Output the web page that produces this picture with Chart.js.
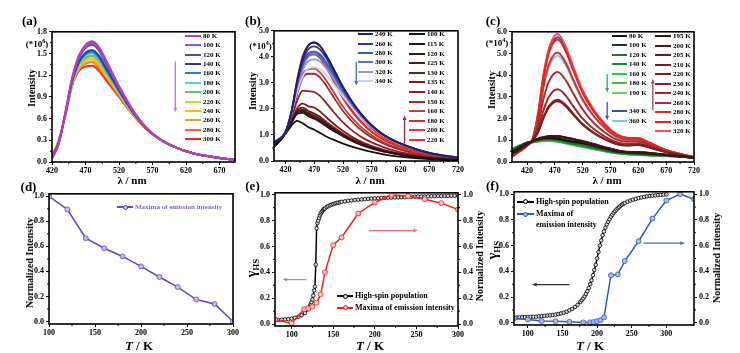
<!DOCTYPE html>
<html>
<head>
<meta charset="utf-8">
<script src="https://cdn.jsdelivr.net/npm/chart.js@4.4.0/dist/chart.umd.min.js"></script>
<style>
  html, body { margin: 0; padding: 0; background: #fff; }
  #fig { position: relative; width: 740px; height: 353px; overflow: hidden;
         font-family: 'Liberation Serif', 'Times New Roman', serif; font-weight: bold; }
  canvas { position: absolute; }
  .t { position: absolute; white-space: nowrap; line-height: 1; color: #000; }
  .ln { position: absolute; height: 2px; }
  .mk { position: absolute; border-radius: 50%; box-sizing: border-box; }
</style>
</head>
<body>
<div id="fig"></div>
<script>
// ---------- data ----------
// (a) emission spectra, x10^6
var wlA = [420, 430, 440, 450, 460, 470, 480, 490, 500, 520, 540, 560, 580, 600, 630, 660, 693];
var tempsA = [80, 100, 120, 140, 160, 180, 200, 220, 240, 260, 280, 300];
var specA = [
  [0.05, 0.25, 0.68, 1.16, 1.47, 1.62, 1.67, 1.59, 1.42, 1.05, 0.73, 0.48, 0.32, 0.22, 0.12, 0.07, 0.03],
  [0.05, 0.25, 0.68, 1.15, 1.45, 1.60, 1.65, 1.57, 1.40, 1.04, 0.72, 0.48, 0.32, 0.22, 0.12, 0.07, 0.03],
  [0.05, 0.26, 0.68, 1.14, 1.43, 1.58, 1.62, 1.54, 1.37, 1.02, 0.71, 0.48, 0.32, 0.22, 0.12, 0.07, 0.03],
  [0.06, 0.27, 0.67, 1.12, 1.38, 1.51, 1.55, 1.47, 1.31, 1.00, 0.70, 0.47, 0.32, 0.22, 0.12, 0.07, 0.03],
  [0.07, 0.27, 0.67, 1.11, 1.37, 1.49, 1.52, 1.44, 1.29, 0.98, 0.70, 0.47, 0.32, 0.22, 0.12, 0.07, 0.03],
  [0.07, 0.27, 0.67, 1.10, 1.35, 1.47, 1.50, 1.42, 1.28, 0.97, 0.69, 0.47, 0.32, 0.22, 0.12, 0.07, 0.03],
  [0.07, 0.28, 0.66, 1.09, 1.34, 1.44, 1.47, 1.40, 1.25, 0.96, 0.69, 0.47, 0.32, 0.22, 0.12, 0.07, 0.03],
  [0.08, 0.28, 0.66, 1.09, 1.32, 1.42, 1.45, 1.37, 1.23, 0.95, 0.68, 0.47, 0.32, 0.22, 0.12, 0.07, 0.03],
  [0.08, 0.29, 0.66, 1.08, 1.31, 1.40, 1.42, 1.35, 1.21, 0.94, 0.68, 0.47, 0.32, 0.22, 0.12, 0.07, 0.03],
  [0.08, 0.29, 0.66, 1.07, 1.29, 1.37, 1.39, 1.32, 1.19, 0.93, 0.67, 0.46, 0.32, 0.22, 0.12, 0.07, 0.03],
  [0.09, 0.29, 0.65, 1.06, 1.28, 1.36, 1.38, 1.30, 1.18, 0.92, 0.67, 0.46, 0.32, 0.22, 0.12, 0.07, 0.03],
  [0.09, 0.30, 0.65, 1.05, 1.26, 1.32, 1.33, 1.26, 1.14, 0.90, 0.66, 0.46, 0.32, 0.22, 0.12, 0.07, 0.03]
];
var xTicksA = [420, 470, 520, 570, 620, 670];
var yTicksA = [0, 0.3, 0.6, 0.9, 1.2, 1.5, 1.8];

// (b) emission spectra, x10^4
var wlB = [400, 420, 430, 440, 450, 460, 470, 480, 490, 500, 520, 540, 560, 580, 600, 630, 670, 720];
var tempsB1 = [240, 260, 280, 300, 320, 340];
var specB1 = [
  [0.70, 1.10, 1.85, 3.05, 3.95, 4.45, 4.55, 4.42, 4.10, 3.70, 2.85, 2.15, 1.60, 1.18, 0.88, 0.58, 0.30, 0.12],
  [0.70, 1.12, 1.85, 3.00, 3.85, 4.30, 4.40, 4.28, 3.98, 3.60, 2.80, 2.12, 1.58, 1.17, 0.88, 0.58, 0.30, 0.12],
  [0.72, 1.12, 1.85, 2.95, 3.72, 4.12, 4.20, 4.10, 3.82, 3.48, 2.72, 2.08, 1.56, 1.16, 0.87, 0.58, 0.31, 0.13],
  [0.72, 1.12, 1.84, 2.90, 3.65, 4.02, 4.10, 4.00, 3.74, 3.40, 2.68, 2.06, 1.55, 1.16, 0.87, 0.58, 0.31, 0.13],
  [0.73, 1.12, 1.82, 2.80, 3.50, 3.84, 3.90, 3.82, 3.58, 3.27, 2.60, 2.02, 1.53, 1.15, 0.87, 0.58, 0.31, 0.13],
  [0.73, 1.12, 1.80, 2.65, 3.25, 3.55, 3.60, 3.53, 3.33, 3.06, 2.48, 1.95, 1.50, 1.14, 0.87, 0.59, 0.32, 0.14]
];
var tempsB2 = [100, 115, 120, 125, 130, 135, 140, 150, 160, 180, 200, 220];
var specB2 = [
  [0.55, 1.05, 1.35, 1.54, 1.45, 1.30, 1.20, 1.08, 0.95, 0.85, 0.67, 0.52, 0.40, 0.30, 0.22, 0.14, 0.07, 0.03],
  [0.55, 1.08, 1.45, 1.80, 1.85, 1.72, 1.62, 1.50, 1.35, 1.20, 0.95, 0.72, 0.55, 0.42, 0.32, 0.20, 0.10, 0.04],
  [0.55, 1.08, 1.47, 1.85, 1.92, 1.78, 1.68, 1.56, 1.40, 1.25, 0.98, 0.75, 0.57, 0.44, 0.33, 0.21, 0.11, 0.04],
  [0.55, 1.08, 1.48, 1.88, 1.97, 1.84, 1.74, 1.62, 1.45, 1.29, 1.01, 0.77, 0.59, 0.45, 0.34, 0.22, 0.11, 0.04],
  [0.55, 1.08, 1.50, 1.93, 2.05, 1.92, 1.82, 1.70, 1.52, 1.35, 1.05, 0.80, 0.61, 0.47, 0.35, 0.23, 0.12, 0.05],
  [0.55, 1.08, 1.52, 2.02, 2.20, 2.10, 2.05, 1.90, 1.70, 1.50, 1.15, 0.87, 0.66, 0.50, 0.37, 0.24, 0.12, 0.05],
  [0.55, 1.08, 1.60, 2.30, 2.70, 2.68, 2.65, 2.50, 2.25, 1.98, 1.48, 1.10, 0.82, 0.62, 0.46, 0.29, 0.15, 0.06],
  [0.55, 1.08, 1.65, 2.55, 3.20, 3.35, 3.35, 3.20, 2.92, 2.58, 1.92, 1.42, 1.05, 0.78, 0.58, 0.37, 0.18, 0.07],
  [0.55, 1.08, 1.68, 2.65, 3.35, 3.52, 3.55, 3.40, 3.12, 2.78, 2.08, 1.55, 1.14, 0.84, 0.62, 0.40, 0.20, 0.08],
  [0.55, 1.08, 1.75, 2.90, 3.75, 4.05, 4.10, 3.95, 3.62, 3.22, 2.40, 1.78, 1.30, 0.95, 0.70, 0.45, 0.22, 0.09],
  [0.55, 1.08, 1.76, 2.95, 3.82, 4.15, 4.20, 4.05, 3.72, 3.30, 2.46, 1.82, 1.33, 0.97, 0.72, 0.46, 0.23, 0.09],
  [0.55, 1.08, 1.80, 3.10, 4.05, 4.45, 4.55, 4.40, 4.05, 3.60, 2.70, 2.00, 1.46, 1.06, 0.78, 0.50, 0.25, 0.10]
];
var xTicksB = [420, 470, 520, 570, 620, 670, 720];
var yTicksB = [0, 1, 2, 3, 4, 5];

// (c) emission spectra, x10^4
var wlC = [393, 420, 430, 440, 450, 460, 475, 490, 500, 520, 540, 560, 580, 600, 620, 640, 670, 720];
var tempsC1 = [80, 100, 120, 140, 160, 180, 190, 340, 360];
var specC1 = [
  [0.45, 0.85, 0.95, 1.05, 1.10, 1.12, 1.08, 1.00, 0.96, 0.88, 0.76, 0.62, 0.50, 0.45, 0.42, 0.40, 0.33, 0.20],
  [0.50, 0.88, 0.95, 1.03, 1.08, 1.10, 1.06, 0.98, 0.93, 0.85, 0.73, 0.60, 0.48, 0.43, 0.40, 0.37, 0.31, 0.20],
  [0.55, 0.90, 0.95, 1.00, 1.04, 1.05, 1.02, 0.94, 0.88, 0.78, 0.66, 0.55, 0.45, 0.40, 0.37, 0.34, 0.30, 0.20],
  [0.58, 0.90, 0.94, 0.98, 1.01, 1.02, 0.98, 0.90, 0.84, 0.74, 0.63, 0.52, 0.43, 0.38, 0.35, 0.32, 0.29, 0.20],
  [0.60, 0.88, 0.92, 0.96, 0.99, 1.00, 0.96, 0.88, 0.82, 0.72, 0.61, 0.51, 0.42, 0.37, 0.34, 0.31, 0.29, 0.20],
  [0.60, 0.87, 0.91, 0.95, 0.98, 0.98, 0.94, 0.86, 0.80, 0.70, 0.60, 0.50, 0.41, 0.36, 0.33, 0.30, 0.28, 0.20],
  [0.62, 0.86, 0.90, 0.94, 0.96, 0.97, 0.93, 0.85, 0.79, 0.69, 0.59, 0.49, 0.40, 0.35, 0.32, 0.30, 0.28, 0.20],
  [0.30, 0.78, 1.05, 2.20, 4.00, 5.15, 5.75, 5.20, 4.52, 3.25, 2.37, 1.73, 1.29, 1.11, 1.09, 0.89, 0.54, 0.22],
  [0.32, 0.80, 1.05, 1.95, 3.45, 4.40, 4.90, 4.45, 3.88, 2.82, 2.08, 1.55, 1.17, 1.02, 1.01, 0.83, 0.52, 0.22]
];
var tempsC2 = [195, 200, 205, 210, 220, 230, 240, 260, 280, 300, 320];
var specC2 = [
  [0.40, 0.82, 0.95, 1.05, 1.12, 1.17, 1.17, 1.10, 1.05, 0.94, 0.80, 0.65, 0.52, 0.44, 0.43, 0.40, 0.32, 0.20],
  [0.38, 0.82, 0.96, 1.06, 1.13, 1.18, 1.18, 1.11, 1.06, 0.95, 0.81, 0.66, 0.53, 0.45, 0.44, 0.41, 0.32, 0.20],
  [0.36, 0.81, 0.96, 1.07, 1.14, 1.19, 1.19, 1.12, 1.07, 0.96, 0.82, 0.67, 0.54, 0.46, 0.45, 0.42, 0.33, 0.20],
  [0.35, 0.80, 0.97, 1.08, 1.15, 1.20, 1.20, 1.13, 1.08, 0.97, 0.83, 0.68, 0.55, 0.47, 0.46, 0.42, 0.33, 0.20],
  [0.33, 0.80, 0.98, 1.38, 2.05, 2.54, 2.80, 2.56, 2.27, 1.72, 1.33, 1.04, 0.83, 0.76, 0.78, 0.67, 0.45, 0.22],
  [0.32, 0.79, 0.98, 1.40, 2.10, 2.60, 2.87, 2.62, 2.32, 1.75, 1.35, 1.05, 0.84, 0.77, 0.79, 0.68, 0.46, 0.22],
  [0.30, 0.78, 0.99, 1.52, 2.42, 3.03, 3.35, 3.05, 2.68, 2.00, 1.52, 1.17, 0.92, 0.83, 0.84, 0.72, 0.47, 0.22],
  [0.28, 0.77, 1.00, 1.75, 2.95, 3.75, 4.15, 3.75, 3.30, 2.42, 1.80, 1.36, 1.05, 0.93, 0.93, 0.78, 0.50, 0.22],
  [0.27, 0.76, 1.02, 2.00, 3.55, 4.55, 5.05, 4.55, 3.97, 2.88, 2.12, 1.57, 1.18, 1.03, 1.02, 0.84, 0.52, 0.22],
  [0.25, 0.75, 1.03, 2.20, 3.95, 5.10, 5.65, 5.08, 4.42, 3.18, 2.32, 1.70, 1.27, 1.10, 1.08, 0.88, 0.54, 0.22],
  [0.25, 0.75, 1.05, 2.30, 4.10, 5.30, 5.90, 5.30, 4.60, 3.30, 2.40, 1.75, 1.30, 1.12, 1.10, 0.90, 0.55, 0.22]
];
var xTicksC = [420, 470, 520, 570, 620, 670, 720];
var yTicksC = [0, 1, 2, 3, 4, 5, 6];

// (d) normalized maxima
var tempD = [100, 120, 140, 160, 180, 200, 220, 240, 260, 280, 300];
var normD = [1.0, 0.895, 0.665, 0.585, 0.52, 0.44, 0.355, 0.275, 0.175, 0.14, 0.0];
var xTicksD = [100, 150, 200, 250, 300];
var yTicksD = [0, 0.2, 0.4, 0.6, 0.8, 1.0];

// (e) high-spin fraction and maxima
var hsTempE = [80, 84, 88, 92, 96, 100, 104, 108, 112, 116, 120,
  121, 122, 123, 124, 125, 126, 127, 128, 129, 130, 131, 132, 133, 134, 135, 136, 137, 138, 139, 140,
  142, 144, 146, 148, 150, 152, 154, 156, 158, 160,
  164, 168, 172, 176, 180, 184, 188, 192, 196, 200, 204, 208, 212, 216, 220, 224, 228, 232, 236, 240,
  244, 248, 252, 256, 260, 264, 268, 272, 276, 280, 284, 288, 292, 296, 300];
var hsValE = [0.030, 0.032, 0.034, 0.036, 0.038, 0.042, 0.048, 0.056, 0.068, 0.085, 0.115,
  0.125, 0.14, 0.155, 0.17, 0.19, 0.22, 0.26, 0.29, 0.46, 0.74, 0.78, 0.80, 0.82, 0.84, 0.855, 0.865, 0.875, 0.885, 0.89, 0.895,
  0.905, 0.912, 0.918, 0.923, 0.928, 0.932, 0.936, 0.939, 0.942, 0.945,
  0.949, 0.953, 0.956, 0.959, 0.962, 0.964, 0.966, 0.968, 0.970, 0.972, 0.973, 0.975, 0.976, 0.977, 0.978, 0.979, 0.980, 0.981, 0.982, 0.983,
  0.984, 0.985, 0.986, 0.987, 0.987, 0.988, 0.989, 0.989, 0.990, 0.990, 0.991, 0.991, 0.992, 0.992, 0.993];
var emTempE = [80, 100, 115, 120, 125, 130, 135, 140, 150, 160, 180, 200, 220, 240, 260, 280, 300];
var emValE = [0.035, 0.005, 0.115, 0.12, 0.135, 0.165, 0.23, 0.40, 0.61, 0.67, 0.855, 0.94, 1.0, 0.99, 0.965, 0.935, 0.885];
var xTicksE = [100, 150, 200, 250, 300];

// (f) high-spin fraction and maxima
var hsTempF = [80, 84, 88, 92, 96, 100, 104, 108, 112, 116, 120, 124, 128, 132, 136, 140, 144, 148, 152, 156, 160, 164, 168, 172, 176,
  178, 180, 182, 184, 186, 188, 190, 192, 194, 196, 198, 200, 202, 204, 206, 208, 210, 212, 214, 216, 218, 220,
  222, 224, 226, 228, 230, 232, 234, 236, 238, 240,
  244, 248, 252, 256, 260, 264, 268, 272, 276, 280, 284, 288, 292, 296, 300];
var hsValF = [0.040, 0.041, 0.042, 0.043, 0.044, 0.045, 0.046, 0.047, 0.048, 0.050, 0.052, 0.054, 0.056, 0.058, 0.061, 0.064, 0.068, 0.073, 0.079, 0.086, 0.097, 0.108, 0.123, 0.140, 0.163,
  0.176, 0.19, 0.206, 0.224, 0.245, 0.27, 0.30, 0.33, 0.37, 0.41, 0.45, 0.50, 0.55, 0.60, 0.64, 0.68, 0.71, 0.74, 0.765, 0.785, 0.805,
  0.825, 0.84, 0.855, 0.868, 0.88, 0.89, 0.90, 0.91, 0.918, 0.925, 0.931,
  0.941, 0.950, 0.957, 0.963, 0.969, 0.974, 0.978, 0.982, 0.985, 0.988, 0.99, 0.992, 0.994, 0.996, 0.998];
var emTempF = [80, 100, 120, 140, 160, 180, 190, 195, 200, 205, 210, 220, 230, 240, 260, 280, 300, 320, 340];
var emValF = [0.035, 0.026, 0.015, 0.012, 0.008, 0.003, 0.004, 0.006, 0.013, 0.02, 0.042, 0.37, 0.376, 0.48, 0.634, 0.81, 0.95, 1.0, 0.96];
var xTicksF = [100, 150, 200, 250, 300];
var yTicksN = [0, 0.2, 0.4, 0.6, 0.8, 1.0];

// ---------- colours ----------
var colorsA = ['#c23bb5', '#9a55c4', '#5a4aa8', '#2a3f9e', '#2f78c8', '#5ccbe6', '#6cc46a', '#c6d83a', '#f5c400', '#f59a2a', '#f2603a', '#ee2a24'];
var colorsB1 = ['#1c1f6b', '#2b3a9c', '#3a5bc4', '#5b72c8', '#8d9ad6', '#d0d2ec'];
var colorsB2 = ['#141414', '#2e1212', '#431616', '#561a1a', '#6b1c1c', '#7f1e1e', '#922222', '#a82828', '#c04040', '#d43030', '#e83636', '#f23030'];
var colorsC1 = ['#151515', '#1b3a20', '#2e6b3a', '#18913a', '#39c447', '#4fb443', '#7ccb5e', '#3b4fae', '#79c9e8'];
var colorsC2 = ['#3a1616', '#4b1a1a', '#5c1e1e', '#6a2020', '#7a2222', '#8a2424', '#9a2a2a', '#b02c2c', '#cf3030', '#ea2222', '#f05050'];

var fig = document.getElementById('fig');
var FONT = "'Liberation Serif', 'Times New Roman', serif";
Chart.defaults.font.family = FONT;

// ---------- plugins ----------
var framePlugin = {
  id: 'frame',
  afterDraw: function(chart) {
    var a = chart.chartArea, c = chart.ctx;
    c.save();
    c.strokeStyle = '#000';
    c.lineWidth = 1.6;
    c.strokeRect(a.left, a.top, a.right - a.left, a.bottom - a.top);
    c.restore();
  }
};

var minorPlugin = {
  id: 'minor',
  afterDraw: function(chart) {
    var c = chart.ctx;
    c.save();
    c.strokeStyle = '#000';
    c.lineWidth = 1;
    Object.keys(chart.scales).forEach(function(k) {
      var s = chart.scales[k], t = s.ticks;
      for (var i = 0; i < t.length - 1; i++) {
        var p = s.getPixelForValue((t[i].value + t[i + 1].value) / 2);
        c.beginPath();
        if (s.isHorizontal()) { c.moveTo(p, s.top); c.lineTo(p, s.top + 2); }
        else if (s.position === 'left') { c.moveTo(s.right, p); c.lineTo(s.right - 2, p); }
        else { c.moveTo(s.left, p); c.lineTo(s.left + 2, p); }
        c.stroke();
      }
    });
    c.restore();
  }
};

function arrowPlugin(list) {
  return {
    id: 'arrows',
    afterDatasetsDraw: function(chart) {
      var c = chart.ctx;
      list.forEach(function(a) {
        var xs = chart.scales.x, ys = chart.scales[a.axis || 'y'];
        var x0 = xs.getPixelForValue(a.from[0]), y0 = ys.getPixelForValue(a.from[1]);
        var x1 = xs.getPixelForValue(a.to[0]), y1 = ys.getPixelForValue(a.to[1]);
        var ang = Math.atan2(y1 - y0, x1 - x0), h = 5;
        c.save();
        c.strokeStyle = a.color;
        c.fillStyle = a.color;
        c.lineWidth = 1.3;
        c.beginPath();
        c.moveTo(x0, y0);
        c.lineTo(x1 - Math.cos(ang) * h * 0.7, y1 - Math.sin(ang) * h * 0.7);
        c.stroke();
        c.beginPath();
        c.moveTo(x1, y1);
        c.lineTo(x1 - h * Math.cos(ang - 0.4), y1 - h * Math.sin(ang - 0.4));
        c.lineTo(x1 - h * Math.cos(ang + 0.4), y1 - h * Math.sin(ang + 0.4));
        c.closePath();
        c.fill();
        c.restore();
      });
    }
  };
}

// ---------- helpers ----------
var tickFont = { family: FONT, size: 8, weight: 'bold' };

function xAxis(min, max, ticks) {
  return {
    type: 'linear', min: min, max: max,
    afterBuildTicks: function(s) { s.ticks = ticks.map(function(v) { return { value: v }; }); },
    afterFit: function(s) { s.height = 14; },
    grid: { drawOnChartArea: false, drawTicks: true, tickLength: 3, color: '#000' },
    border: { display: false },
    ticks: { font: tickFont, color: '#000', padding: 1, maxRotation: 0, autoSkip: false,
             callback: function(v) { return String(v); } }
  };
}

function yAxis(min, max, ticks, pos, width) {
  return {
    type: 'linear', position: pos, min: min, max: max,
    afterBuildTicks: function(s) { s.ticks = ticks.map(function(v) { return { value: v }; }); },
    afterFit: function(s) { s.width = width; },
    grid: { drawOnChartArea: false, drawTicks: true, tickLength: 3, color: '#000' },
    border: { display: false },
    ticks: { font: tickFont, color: '#000', padding: 2, autoSkip: false,
             callback: function(v) { return v.toFixed(1); } }
  };
}

function spectra(wl, series, colors, width) {
  return series.map(function(vals, i) {
    return {
      data: vals.map(function(v, j) { return { x: wl[j], y: v }; }),
      borderColor: colors[i], borderWidth: width, pointRadius: 0,
      cubicInterpolationMode: 'monotone', fill: false
    };
  });
}

function series(xs, ys, color, fillColor, radius, width, axis, order) {
  return {
    data: xs.map(function(x, i) { return { x: x, y: ys[i] }; }),
    yAxisID: axis || 'y', order: order || 0,
    borderColor: color, borderWidth: width, pointRadius: radius,
    pointBackgroundColor: fillColor, pointBorderColor: color, pointBorderWidth: 0.8,
    tension: 0, fill: false
  };
}

function makeChart(box, datasets, scales, arrows) {
  var cv = document.createElement('canvas');
  cv.width = box.w;
  cv.height = box.h;
  cv.style.left = box.x + 'px';
  cv.style.top = box.y + 'px';
  fig.appendChild(cv);
  return new Chart(cv, {
    type: 'line',
    data: { datasets: datasets },
    options: {
      responsive: false, animation: false, devicePixelRatio: 1,
      layout: { padding: { top: 6, right: box.r, left: 0, bottom: 0 } },
      plugins: { legend: { display: false }, tooltip: { enabled: false } },
      scales: scales
    },
    plugins: [framePlugin, minorPlugin, arrowPlugin(arrows)]
  });
}

function text(html, x, y, size, opt) {
  opt = opt || {};
  var d = document.createElement('div');
  d.className = 't';
  d.innerHTML = html;
  d.style.fontSize = size + 'px';
  d.style.left = x + 'px';
  d.style.top = y + 'px';
  var tr = 'translate(' + (opt.left ? '0' : '-50%') + ',-50%)';
  if (opt.rotate) tr += ' rotate(' + opt.rotate + 'deg)';
  d.style.transform = tr;
  if (opt.color) d.style.color = opt.color;
  fig.appendChild(d);
}

function legendItem(x0, x1, y, color, label, size, marker, textColor) {
  var l = document.createElement('div');
  l.className = 'ln';
  l.style.left = x0 + 'px';
  l.style.top = (y - 1) + 'px';
  l.style.width = (x1 - x0) + 'px';
  l.style.background = color;
  fig.appendChild(l);
  if (marker) {
    var m = document.createElement('div');
    m.className = 'mk';
    m.style.width = m.style.height = '5px';
    m.style.left = ((x0 + x1) / 2 - 2.5) + 'px';
    m.style.top = (y - 2.5) + 'px';
    m.style.background = marker;
    m.style.border = '1px solid ' + color;
    fig.appendChild(m);
  }
  if (label) text(label, x1 + 2, y, size, { left: true, color: textColor });
}

// ---------- (a) ----------
makeChart({ x: 24, y: 25, w: 221, h: 151, r: 10 },
  spectra(wlA, specA, colorsA, 2),
  { x: xAxis(420, 693, xTicksA), y: yAxis(0, 1.8, yTicksA, 'left', 28) },
  [{ from: [604, 1.39], to: [604, 0.69], color: '#b77ccc' }]);
tempsA.forEach(function(t, i) { legendItem(185, 201, 35.7 + i * 9.4, colorsA[i], t + ' K', 7); });

// ---------- (b) ----------
makeChart({ x: 246, y: 24, w: 222, h: 151, r: 10 },
  spectra(wlB, specB1, colorsB1, 1.8).concat(spectra(wlB, specB2, colorsB2, 1.8)),
  { x: xAxis(400, 720, xTicksB), y: yAxis(0, 5, yTicksB, 'left', 28) },
  [{ from: [543, 3.8], to: [543, 2.9], color: '#4a66c8' },
   { from: [627, 0.67], to: [627, 1.75], color: '#a02838' }]);
tempsB1.forEach(function(t, i) { legendItem(358, 373, 34.3 + i * 9.3, colorsB1[i], t + ' K', 7); });
tempsB2.forEach(function(t, i) { legendItem(409, 425, 34.3 + i * 9.6, colorsB2[i], t + ' K', 7); });

// ---------- (c) ----------
makeChart({ x: 484, y: 25, w: 220, h: 151, r: 10 },
  spectra(wlC, specC2, colorsC2, 2).concat(spectra(wlC, specC1, colorsC1, 2)),
  { x: xAxis(393, 720, xTicksC), y: yAxis(0, 6, yTicksC, 'left', 28) },
  [{ from: [564, 4.05], to: [564, 3.2], color: '#3aa848' },
   { from: [564, 2.76], to: [564, 1.92], color: '#3a52b8' },
   { from: [646, 2.38], to: [646, 3.83], color: '#a84850' }]);
tempsC1.forEach(function(t, i) {
  var y = i < 7 ? 36 + i * 9.45 : 111 + (i - 7) * 9.5;
  legendItem(612, 627, y, colorsC1[i], t + ' K', 7);
});
tempsC2.forEach(function(t, i) { legendItem(655, 671, 36 + i * 9.5, colorsC2[i], t + ' K', 7); });

// ---------- (d) ----------
makeChart({ x: 21, y: 187, w: 222, h: 151, r: 10 },
  [series(tempD, normD, '#6a4aae', '#c8b8e8', 2.5, 1.6)],
  { x: xAxis(100, 300, xTicksD), y: yAxis(-0.02, 1.02, yTicksD, 'left', 28) },
  []);
legendItem(117, 133, 207, '#6a4aae', 'Maxima of emission intensity', 7, '#c8b8e8', '#8a62c8');

// ---------- (e) ----------
makeChart({ x: 247, y: 186, w: 237, h: 154, r: 0 },
  [series(emTempE, emValE, '#f02020', '#f8c4c4', 2.5, 1.5, 'y2', 0),
   series(hsTempE, hsValE, '#000', '#d8d8d8', 1.8, 1.5, 'y', 1)],
  { x: xAxis(80, 300, xTicksE), y: yAxis(-0.015, 1.015, yTicksN, 'left', 28),
    y2: yAxis(-0.015, 1.015, yTicksN, 'right', 26) },
  [{ from: [118, 0.344], to: [89, 0.344], color: '#9a9a9a' },
   { from: [193, 0.723], to: [252, 0.723], color: '#f07070', axis: 'y2' }]);
legendItem(337, 353, 296, '#000', 'High-spin population', 8, '#d8d8d8');
legendItem(337, 353, 307.5, '#f02020', 'Maxima of emission intensity', 8, '#f8c4c4');

// ---------- (f) ----------
makeChart({ x: 486, y: 185, w: 234, h: 154, r: 0 },
  [series(emTempF, emValF, '#3a56c0', '#a8b8e8', 2.5, 1.5, 'y2', 0),
   series(hsTempF, hsValF, '#000', '#d8d8d8', 1.8, 1.5, 'y', 1)],
  { x: xAxis(80, 340, xTicksF), y: yAxis(-0.017, 1.018, yTicksN, 'left', 28),
    y2: yAxis(-0.017, 1.018, yTicksN, 'right', 26) },
  [{ from: [160, 0.297], to: [106, 0.297], color: '#333' },
   { from: [267, 0.619], to: [327, 0.619], color: '#4a6ad0', axis: 'y2' }]);
legendItem(517, 534, 201.7, '#000', 'High-spin population', 8, '#d8d8d8');
legendItem(517, 534, 214, '#3a56c0', 'Maxima of', 8, '#a8b8e8');
text('emission intensity', 536, 224.5, 8, { left: true });

// ---------- labels ----------
text('(a)', 29.5, 20, 13);
text('(b)', 253, 20, 13);
text('(c)', 493, 20, 13);
text('(d)', 28.5, 186, 13);
text('(e)', 252.5, 185, 13);
text('(f)', 492.5, 185, 13);
text('(*10<sup style="font-size:6px">6</sup>)', 37, 43, 9);
text('(*10<sup style="font-size:6px">4</sup>)', 260.5, 45, 9);
text('(*10<sup style="font-size:6px">4</sup>)', 497, 42, 9);
text('Intensity', 31.5, 88, 10, { rotate: -90 });
text('Intensity', 252.5, 91, 10, { rotate: -90 });
text('Intensity', 492, 90, 10, { rotate: -90 });
text('&lambda; / nm', 132, 180, 11);
text('&lambda; / nm', 370, 180, 11);
text('&lambda; / nm', 607, 180, 11);
text('<i>T</i> / K', 139, 345, 13);
text('<i>T</i> / K', 370, 345, 13);
text('<i>T</i> / K', 590, 345, 13);
text('Normalized Intensity', 29.5, 263, 10, { rotate: -90 });
text('Normalized Intensity', 480, 256, 10, { rotate: -90 });
text('Normalized Intensity', 716.5, 258, 10, { rotate: -90 });
text('&gamma;<sub style="font-size:9px">HS</sub>', 253, 268, 14, { rotate: -90 });
text('&gamma;<sub style="font-size:9px">HS</sub>', 494, 250, 14, { rotate: -90 });
</script>
</body>
</html>
